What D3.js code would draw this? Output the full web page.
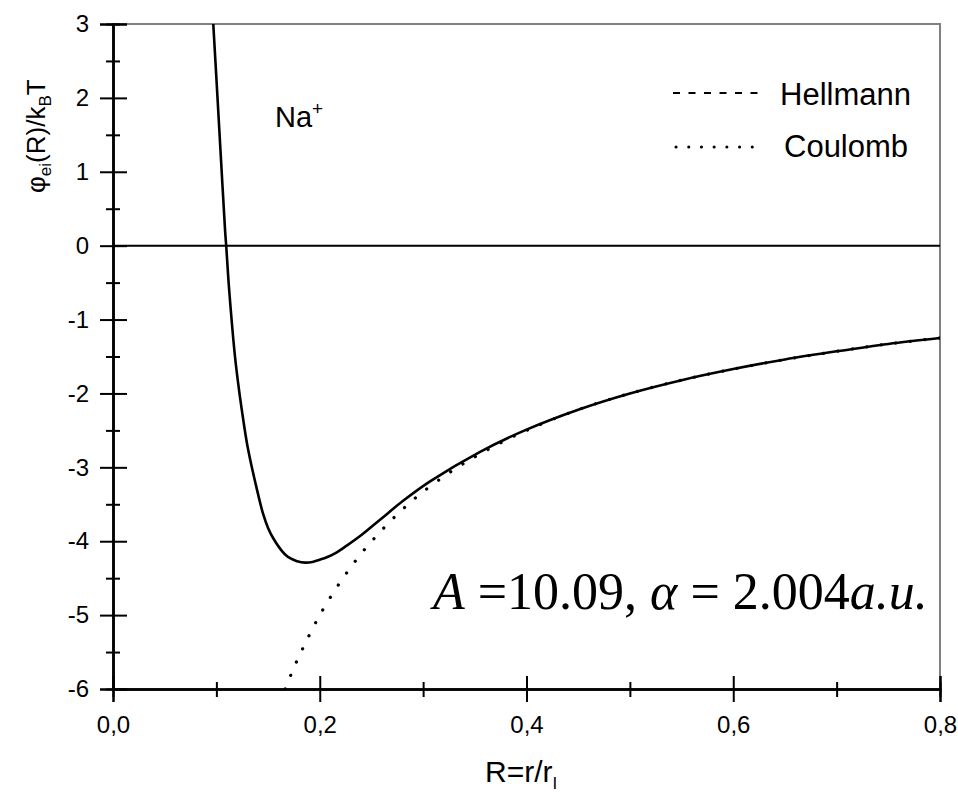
<!DOCTYPE html>
<html>
<head>
<meta charset="utf-8">
<script src="https://cdn.jsdelivr.net/npm/d3@7"></script>
<style>
  body { margin: 0; background: #fff; }
  svg { display: block; }
  .tick text { font-family: "Liberation Sans", Arial, sans-serif; font-size: 24px; fill: #000; }
</style>
</head>
<body>
<div id="chart"></div>
<script>
// phi_ei(R)/kBT for Na+ : Hellmann pseudopotential vs pure Coulomb

// Hellmann curve (solid)
const hellR   = [0.097, 0.100, 0.1045, 0.1084, 0.1095, 0.1125, 0.1187, 0.127, 0.131, 0.1406, 0.145, 0.150, 0.155, 0.1616, 0.1665, 0.1713, 0.178, 0.1858, 0.193, 0.200, 0.208, 0.2165, 0.2261, 0.240, 0.2583, 0.280, 0.3067, 0.3551, 0.40, 0.45, 0.50, 0.55, 0.60, 0.65, 0.70, 0.75, 0.80];
const hellPhi = [3.0, 2.27, 1.16, 0.21, 0.0, -0.62, -1.59, -2.45, -2.78, -3.38, -3.62, -3.82, -3.96, -4.10, -4.18, -4.23, -4.27, -4.29, -4.28, -4.25, -4.21, -4.15, -4.06, -3.92, -3.71, -3.46, -3.19, -2.79, -2.49, -2.22, -2.00, -1.82, -1.67, -1.54, -1.43, -1.33, -1.25];

// Coulomb curve (dotted)
const coulR   = [0.1667, 0.175, 0.185, 0.200, 0.220, 0.240, 0.260, 0.280, 0.300, 0.330, 0.360, 0.400, 0.450, 0.500, 0.550, 0.600, 0.650, 0.700, 0.750, 0.800];
const coulPhi = [-6.0, -5.71, -5.41, -5.0, -4.55, -4.17, -3.85, -3.57, -3.33, -3.03, -2.78, -2.5, -2.22, -2.0, -1.82, -1.67, -1.54, -1.43, -1.33, -1.25];

// ticks
const xMajor = [0, 0.2, 0.4, 0.6, 0.8];
const xMinor = [0.1, 0.3, 0.5, 0.7];
const yMajor = [-6, -5, -4, -3, -2, -1, 0, 1, 2, 3];
const yMinor = [-5.5, -4.5, -3.5, -2.5, -1.5, -0.5, 0.5, 1.5, 2.5];

const W = 958, H = 794;
const pL = 113, pR = 940, pT = 24, pB = 689;
const sans = '"Liberation Sans", Arial, sans-serif';
const serif = '"Liberation Serif", "Times New Roman", serif';

const svg = d3.select("#chart").append("svg")
    .attr("width", W)
    .attr("height", H);

const x = d3.scaleLinear().domain([0, 0.8]).range([pL, pR]);
const y = d3.scaleLinear().domain([-6, 3]).range([pB, pT]);

// gray frame (top and right)
svg.append("path")
    .attr("d", `M${pL},${pT}H${pR}V${pB}`)
    .attr("fill", "none")
    .attr("stroke", "#808080")
    .attr("stroke-width", 2);

// zero line
svg.append("line")
    .attr("x1", x(0)).attr("x2", x(0.8))
    .attr("y1", y(0)).attr("y2", y(0))
    .attr("stroke", "#000")
    .attr("stroke-width", 2);

// clip
svg.append("clipPath").attr("id", "plot-clip")
    .append("rect")
    .attr("x", pL).attr("y", pT)
    .attr("width", pR - pL).attr("height", pB - pT);

const line = d3.line()
    .x(d => x(d[0]))
    .y(d => y(d[1]))
    .curve(d3.curveCatmullRom.alpha(0.5));

const hellData = hellR.map((r, i) => [r, hellPhi[i]]);
const coulData = coulR.map((r, i) => [r, coulPhi[i]]);

svg.append("path")
    .datum(coulData)
    .attr("clip-path", "url(#plot-clip)")
    .attr("d", line)
    .attr("fill", "none")
    .attr("stroke", "#000")
    .attr("stroke-width", 3.2)
    .attr("stroke-linecap", "round")
    .attr("stroke-dasharray", "0.1,14.5");

svg.append("path")
    .datum(hellData)
    .attr("clip-path", "url(#plot-clip)")
    .attr("d", line)
    .attr("fill", "none")
    .attr("stroke", "#000")
    .attr("stroke-width", 2.6);

// axes: outer + inner ticks
function styleAxis(g) {
    g.select(".domain").attr("stroke", "#000").attr("stroke-width", 2);
    g.selectAll(".tick line").attr("stroke", "#000").attr("stroke-width", 2);
}

const gx = svg.append("g").attr("transform", `translate(0,${pB})`);
gx.append("g").call(d3.axisBottom(x).tickValues(xMajor).tickSize(13).tickPadding(14)
        .tickFormat(d => d3.format(".1f")(d).replace(".", ",")))
    .call(styleAxis);
gx.append("g").call(d3.axisBottom(x).tickValues(xMajor).tickSize(-13).tickFormat(""))
    .call(styleAxis);
gx.append("g").call(d3.axisBottom(x).tickValues(xMinor).tickSize(8).tickFormat(""))
    .call(styleAxis);
gx.append("g").call(d3.axisBottom(x).tickValues(xMinor).tickSize(-7).tickFormat(""))
    .call(styleAxis);

const gy = svg.append("g").attr("transform", `translate(${pL},0)`);
gy.append("g").call(d3.axisLeft(y).tickValues(yMajor).tickSize(13).tickPadding(11)
        .tickFormat(d => String(d)))
    .call(styleAxis);
gy.append("g").call(d3.axisLeft(y).tickValues(yMajor).tickSize(-14).tickFormat(""))
    .call(styleAxis);
gy.append("g").call(d3.axisLeft(y).tickValues(yMinor).tickSize(7).tickFormat(""))
    .call(styleAxis);
gy.append("g").call(d3.axisLeft(y).tickValues(yMinor).tickSize(-7).tickFormat(""))
    .call(styleAxis);

// axis titles
const xt = svg.append("text")
    .attr("x", 485).attr("y", 782)
    .attr("font-family", sans).attr("font-size", 30);
xt.append("tspan").text("R=r/r");
xt.append("tspan").attr("font-size", 17).attr("dy", 7).text("I");

const yt = svg.append("text")
    .attr("transform", "translate(45,193) rotate(-90)")
    .attr("font-family", sans).attr("font-size", 26);
yt.append("tspan").text("φ");
yt.append("tspan").attr("font-size", 17).attr("dy", 6).text("ei");
yt.append("tspan").attr("dy", -6).text("(R)/k");
yt.append("tspan").attr("font-size", 17).attr("dy", 6).text("B");
yt.append("tspan").attr("dy", -6).text("T");

// Na+
const na = svg.append("text")
    .attr("x", 275).attr("y", 127)
    .attr("font-family", sans).attr("font-size", 29);
na.append("tspan").text("Na");
na.append("tspan").attr("font-size", 19).attr("dy", -12).text("+");

// legend
const legend = [
    { name: "Hellmann", dash: "7,8.5", cap: "butt", w: 2.2, x1: 673, x2: 766, ly: 93, tx: 780, ty: 105 },
    { name: "Coulomb", dash: "0.1,12.6", cap: "round", w: 3, x1: 676, x2: 757, ly: 147, tx: 784, ty: 157 }
];
const lg = svg.append("g").selectAll("g").data(legend).enter().append("g");
lg.append("line")
    .attr("x1", d => d.x1).attr("x2", d => d.x2)
    .attr("y1", d => d.ly).attr("y2", d => d.ly)
    .attr("stroke", "#000")
    .attr("stroke-width", d => d.w)
    .attr("stroke-linecap", d => d.cap)
    .attr("stroke-dasharray", d => d.dash);
lg.append("text")
    .attr("x", d => d.tx).attr("y", d => d.ty)
    .attr("font-family", sans).attr("font-size", 31)
    .text(d => d.name);

// parameters annotation
const ann = svg.append("text")
    .attr("x", 433).attr("y", 609)
    .attr("font-family", serif).attr("font-size", 52);
ann.append("tspan").attr("font-style", "italic").text("A");
ann.append("tspan").text(" =10.09, ");
ann.append("tspan").attr("font-style", "italic").text("α");
ann.append("tspan").text(" = 2.004");
ann.append("tspan").attr("font-style", "italic").text("a.u.");
</script>
</body>
</html>
